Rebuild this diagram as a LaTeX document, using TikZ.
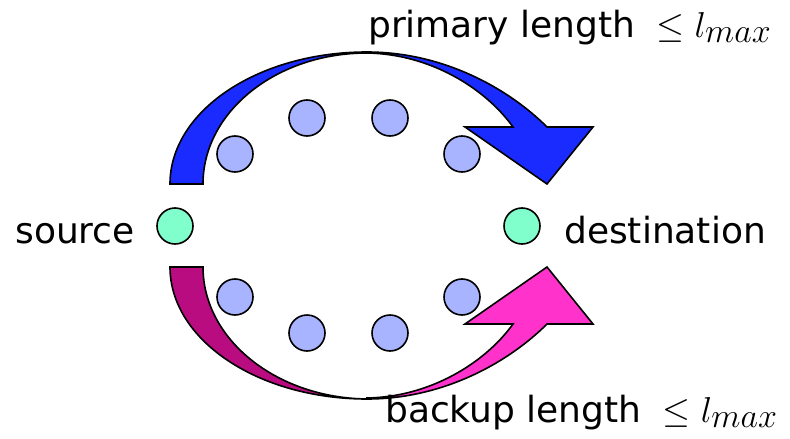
\documentclass[tikz,border=0pt]{standalone}
\usepackage{fontspec}
\setmainfont{DejaVu Sans}
\DeclareFontShape{OML}{cmm}{m}{it}{<->cmmi12}{}
\DeclareFontShape{OMS}{cmsy}{m}{n}{<->cmsy10}{}
\DeclareMathSizes{36}{36}{34}{25}
\definecolor{relay}{HTML}{A8B4FF}
\definecolor{endpt}{HTML}{80FFCC}
\definecolor{primblue}{HTML}{1A2BFF}
\definecolor{backdark}{HTML}{B90C80}
\definecolor{backpink}{HTML}{FF33CC}
\begin{document}
\begin{tikzpicture}[x=1pt,y=-1pt,
  relaynode/.style={circle,draw=black,line width=1.6pt,fill=relay,minimum size=36pt,inner sep=0pt},
  endnode/.style={circle,draw=black,line width=1.6pt,fill=endpt,minimum size=36pt,inner sep=0pt},
  arrowshape/.style={draw=black,line width=1.6pt,line join=miter},
  lbl/.style={inner sep=0pt,font=\fontsize{36}{43}\selectfont}]
\useasboundingbox (0,0) rectangle (790,439);
% primary arrow
\path[arrowshape,fill=primblue]
  (170,184) .. controls (170,111) and (258,52) .. (367,52)
  .. controls (445,52) and (510,90) .. (547,127)
  -- (593,127) -- (547,184) -- (465,127) -- (513,127)
  .. controls (485,88) and (430,54) .. (367,53)
  .. controls (276,53) and (203,112) .. (203,184) -- cycle;
% backup arrow, dark part
\path[arrowshape,fill=backdark]
  (170,267) .. controls (170,340) and (258,399) .. (367,399)
  .. controls (276,398) and (203,339) .. (203,267) -- cycle;
% backup arrow, pink part
\path[arrowshape,fill=backpink]
  (367,399) .. controls (445,399) and (510,361) .. (547,324)
  -- (593,324) -- (547,267) -- (465,324) -- (513,324)
  .. controls (485,363) and (430,397) .. (367,398) -- cycle;
% nodes
\node[endnode] (src) at (175,226) {};
\node[endnode] (dst) at (522,226) {};
\node[relaynode] (p1) at (235,154) {};
\node[relaynode] (p2) at (307,118) {};
\node[relaynode] (p3) at (390,118) {};
\node[relaynode] (p4) at (462,154) {};
\node[relaynode] (b1) at (235,297) {};
\node[relaynode] (b2) at (307,333) {};
\node[relaynode] (b3) at (390,333) {};
\node[relaynode] (b4) at (462,297) {};
% labels
\node[lbl,anchor=base east] (srclbl) at (135,243) {source};
\node[lbl,anchor=base west] (dstlbl) at (564,243) {destination};
\node[lbl,anchor=base west] (primlbl) at (368,37) {primary length $\;\leq l_{max}$};
\node[lbl,anchor=base west] (backlbl) at (385,422) {backup length $\;\leq l_{max}$};
\end{tikzpicture}
\end{document}
